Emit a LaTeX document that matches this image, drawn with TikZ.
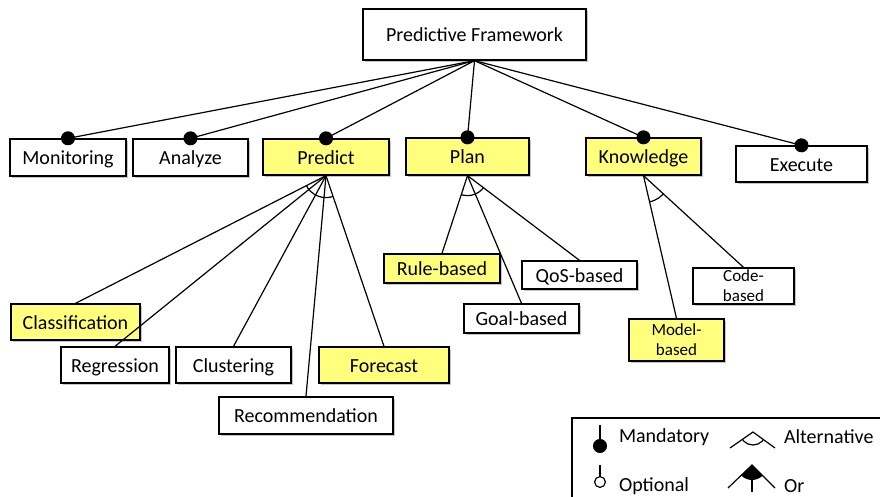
\documentclass[tikz,border=0pt]{standalone}
\usepackage{fontspec}
\setmainfont{Carlito}
\usetikzlibrary{arrows.meta,shadows}
\definecolor{featyellow}{RGB}{255,255,125}
\tikzset{
  feat/.style={draw, line width=0.65pt, fill=white, inner sep=0pt,
    minimum height=18pt, align=center, text height=8.6pt, text depth=1.2pt,
    drop shadow={shadow xshift=0.8pt, shadow yshift=-0.8pt, fill=black!45, opacity=0.5}},
  hl/.style={feat, fill=featyellow},
  small/.style={font=\fontsize{8.5}{10}\selectfont, text height=, text depth=},
  link/.style={line width=0.6pt},
  mand/.style={link, -{Circle[length=7pt]}, shorten >=-3.5pt},
  opt/.style={link, -{Circle[open, length=6pt]}, shorten >=-3pt},
}
\begin{document}
\begin{tikzpicture}[x=0.5pt, y=-0.5pt]
      \useasboundingbox (0,0) rectangle (880,497);
      \draw
        (474.5,34.5) node[feat, minimum width=111.5pt, minimum height=25.5pt] (pf){Predictive Framework}
        (68,157.5) node[feat, minimum width=58pt, minimum height=18.5pt] (mon){Monitoring}
        (190.5,157.5) node[feat, minimum width=57.5pt, minimum height=18.5pt] (ana){Analyze}
        (326,157) node[hl, minimum width=63pt] (pre){Predict}
        (467.5,156.5) node[hl, minimum width=61.5pt, minimum height=18.5pt] (pla){Plan}
        (643.5,156.5) node[hl, minimum width=57.5pt, minimum height=18.5pt] (kno){Knowledge}
        (801.5,164) node[feat, minimum width=65.5pt] (exe){Execute}
        (75.5,322) node[hl, minimum width=64.5pt] (cla){Classification}
        (115,365) node[feat, minimum width=54pt] (reg){Regression}
        (233.5,365) node[feat, minimum width=57.5pt] (clu){Clustering}
        (384,365) node[hl, minimum width=65pt] (fore){Forecast}
        (306,415.5) node[feat, minimum width=87pt, minimum height=18.5pt] (rec){Recommendation}
        (442,268.5) node[hl, minimum width=58pt, minimum height=14.5pt] (rule){Rule-based}
        (579.5,275) node[feat, minimum width=57.5pt, minimum height=14pt] (qos){QoS-based}
        (521.5,318.5) node[feat, minimum width=57.5pt, minimum height=14.5pt] (goal){Goal-based}
        (676.5,340) node[hl, small, minimum width=47.5pt, minimum height=21pt] (model){Model-\\based}
        (743.5,286) node[feat, small, minimum width=50.5pt] (code){Code-\\based};
      \begin{scope}[mand]
        \draw (pf.south) to (mon.north);
        \draw (pf.south) to (ana.north);
        \draw (pf.south) to (pre.north);
        \draw (pf.south) to (pla.north);
        \draw (pf.south) to (kno.north);
        \draw (pf.south) to (exe.north);
      \end{scope}
      \begin{scope}[link]
        \draw (pre.south) to (cla.north);
        \draw (pre.south) to (reg.north);
        \draw (pre.south) to (clu.north);
        \draw (pre.south) to (rec.north);
        \draw (pre.south) to (fore.north);
        \draw (pla.south) to (rule.north);
        \draw (pla.south) to (goal.north);
        \draw (pla.south) to (qos.north);
        \draw (kno.south) to (model.north);
        \draw (kno.south) to (code.north);
      \end{scope}
      \begin{scope}
        \clip (pre.south) -- (cla.north) -- (fore.north) -- cycle;
        \draw[link] (pre.south) circle[radius=11pt];
      \end{scope}
      \begin{scope}
        \clip (pla.south) -- (rule.north) -- (qos.north) -- cycle;
        \draw[link] (pla.south) circle[radius=10pt];
      \end{scope}
      \begin{scope}
        \clip (kno.south) -- (model.north) -- (code.north) -- cycle;
        \draw[link] (kno.south) circle[radius=13.5pt];
      \end{scope}
      \draw[line width=0.65pt] (572,418) rectangle (900,530);
      \coordinate (mtop) at (600,425);
      \coordinate (mdot) at (600,446);
      \coordinate (otop) at (600,465);
      \coordinate (odot) at (600,482);
      \draw[mand] (mtop) -- (mdot);
      \draw[opt] (otop) -- (odot);
      \node[anchor=west] (lmand) at (612,437) {Mandatory};
      \node[anchor=west] (lopt) at (612,486) {Optional};
      \coordinate (atop) at (753,432);
      \coordinate (aleft) at (730,448);
      \coordinate (aright) at (775,448);
      \draw[link] (aleft) -- (atop) -- (aright);
      \begin{scope}
        \clip (atop) -- (aleft) -- (aright) -- cycle;
        \draw[link] (atop) circle[radius=6.5pt];
      \end{scope}
      \coordinate (otip) at (752,465);
      \coordinate (oleft) at (728,488);
      \coordinate (oright) at (775,488);
      \coordinate (obot) at (752,492);
      \draw[link] (oleft) -- (otip) -- (oright);
      \begin{scope}
        \clip (otip) -- (oleft) -- (oright) -- cycle;
        \fill (otip) circle[radius=7.5pt];
      \end{scope}
      \draw[link] (otip) -- (obot);
      \node[anchor=west] (lalt) at (777,437) {Alternative};
      \node[anchor=west] (lor) at (777,486) {Or};
    \end{tikzpicture}
\end{document}
